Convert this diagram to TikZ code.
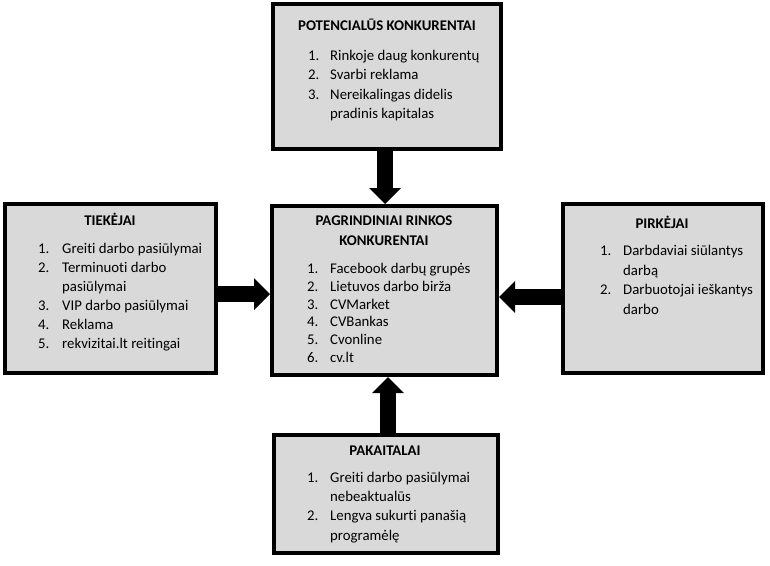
\documentclass[tikz,border=0pt]{standalone}
\usepackage{fontspec}
\setmainfont{Carlito}[Ligatures={NoCommon}]
\usetikzlibrary{arrows.meta}
\definecolor{boxgray}{HTML}{D9D9D9}
\begin{document}
\begin{tikzpicture}[x=1pt,y=-1pt,
  box/.style={draw=black,line width=3.8pt,fill=boxgray,inner sep=0pt,rectangle},
  blk/.style={draw=black,line width=16pt,-{Triangle[width=32pt,length=16pt,line width=0pt]}},
  itm/.style={inner sep=0pt,anchor=mid west,font=\fontsize{14.8}{17}\selectfont},
  ttl/.style={inner sep=0pt,anchor=mid,font=\fontsize{14.8}{17}\selectfont\bfseries}]
\useasboundingbox (0,0) rectangle (770,565);
\fill[white] (0,0) rectangle (770,565);
% boxes
\node[box,minimum width=228.2pt,minimum height=145.2pt] (top) at (387,76.5) {};
\node[box,minimum width=225.2pt,minimum height=169.2pt] (cen) at (384.5,290.5) {};
\node[box,minimum width=224.2pt,minimum height=118.2pt] (bot) at (386,494) {};
\node[box,minimum width=211.2pt,minimum height=169.2pt] (lft) at (110.5,288.5) {};
\node[box,minimum width=200.2pt,minimum height=169.2pt] (rgt) at (663,288.5) {};
% arrows
\draw[blk] ([xshift=-2pt]top.south) -- ([xshift=-2pt]top.south |- cen.north);
\draw[blk] ([xshift=2pt]bot.north) -- ([xshift=2pt]bot.north |- cen.south);
\draw[blk] ([yshift=-5.5pt]lft.east) -- ([yshift=-5.5pt]lft.east -| cen.west);
\draw[blk] ([yshift=-8.5pt]rgt.west) -- ([yshift=-8.5pt]rgt.west -| cen.east);
% top box text
\node[ttl] (topT) at (387,28) {POTENCIALŪS KONKURENTAI};
\node[itm] (topN1) at (308,58) {1.};
\node[itm] (topI1) at (330,58) {Rinkoje daug  konkurentų};
\node[itm] (topN2) at (308,77) {2.};
\node[itm] (topI2) at (330,77) {Svarbi reklama};
\node[itm] (topN3) at (308,97) {3.};
\node[itm] (topI3) at (330,97) {Nereikalingas didelis};
\node[itm] (topI3b) at (330,116) {pradinis kapitalas};
% left box text
\node[ttl] (lftT) at (110,223) {TIEKĖJAI};
\node[itm] (lftN1) at (38,251) {1.};
\node[itm] (lftI1) at (62,251) {Greiti darbo pasiūlymai};
\node[itm] (lftN2) at (38,270) {2.};
\node[itm] (lftI2) at (62,270) {Terminuoti darbo};
\node[itm] (lftI2b) at (62,289) {pasiūlymai};
\node[itm] (lftN3) at (38,308) {3.};
\node[itm] (lftI3) at (62,308) {VIP darbo pasiūlymai};
\node[itm] (lftN4) at (38,327) {4.};
\node[itm] (lftI4) at (62,327) {Reklama};
\node[itm] (lftN5) at (38,346) {5.};
\node[itm] (lftI5) at (62,346) {rekvizitai.lt reitingai};
% center box text
\node[ttl] (cenT1) at (384,223) {PAGRINDINIAI RINKOS};
\node[ttl] (cenT2) at (384,243) {KONKURENTAI};
\node[itm] (cenN1) at (307,271) {1.};
\node[itm] (cenI1) at (330,271) {Facebook darbų grupės};
\node[itm] (cenN2) at (307,289) {2.};
\node[itm] (cenI2) at (330,289) {Lietuvos darbo birža};
\node[itm] (cenN3) at (307,307) {3.};
\node[itm] (cenI3) at (330,307) {CVMarket};
\node[itm] (cenN4) at (307,324.5) {4.};
\node[itm] (cenI4) at (330,324.5) {CVBankas};
\node[itm] (cenN5) at (307,342) {5.};
\node[itm] (cenI5) at (330,342) {Cvonline};
\node[itm] (cenN6) at (307,360) {6.};
\node[itm] (cenI6) at (330,360) {cv.lt};
% right box text
\node[ttl] (rgtT) at (662,226) {PIRKĖJAI};
\node[itm] (rgtN1) at (600,253) {1.};
\node[itm] (rgtI1) at (623,253) {Darbdaviai siūlantys};
\node[itm] (rgtI1b) at (623,273) {darbą};
\node[itm] (rgtN2) at (600,292) {2.};
\node[itm] (rgtI2) at (623,292) {Darbuotojai ieškantys};
\node[itm] (rgtI2b) at (623,312) {darbo};
% bottom box text
\node[ttl] (botT) at (385,453) {PAKAITALAI};
\node[itm] (botN1) at (307,480) {1.};
\node[itm] (botI1) at (330,480) {Greiti darbo pasiūlymai};
\node[itm] (botI1b) at (330,499) {nebeaktualūs};
\node[itm] (botN2) at (307,518) {2.};
\node[itm] (botI2) at (330,518) {Lengva sukurti panašią};
\node[itm] (botI2b) at (330,538) {programėlę};
\end{tikzpicture}
\end{document}
